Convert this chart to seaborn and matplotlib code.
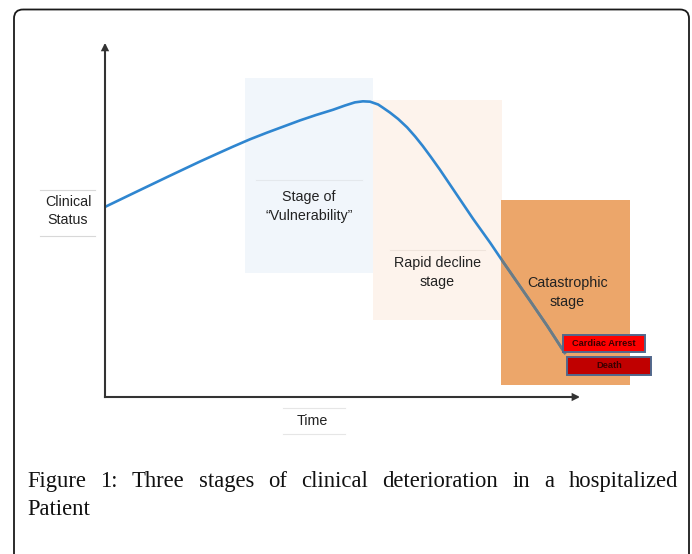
import matplotlib
matplotlib.use("Agg")
import matplotlib.pyplot as plt
import seaborn as sns
import pandas as pd
from matplotlib.patches import Rectangle, FancyBboxPatch, FancyArrowPatch

# ---------------- data ----------------
time_pts = [0.0, 6.3, 13.1, 20.0, 23.6, 26.9, 30.5, 34.1, 37.5, 41.1, 44.4, 48.0, 50.5,
            52.6, 54.3, 55.8, 57.5, 58.5, 60.0, 61.7, 63.6, 65.3, 66.9, 68.6, 70.5,
            74.1, 77.5, 81.1, 83.8, 89.5, 93.1, 96.8]
status_pts = [54.0, 58.1, 62.5, 66.9, 69.1, 71.1, 73.2, 75.1, 76.8, 78.6, 80.1, 81.6, 82.8,
              83.7, 84.0, 83.9, 83.1, 82.2, 80.8, 79.0, 76.6, 74.0, 71.3, 68.2, 64.6,
              57.4, 50.6, 43.8, 38.4, 27.3, 20.2, 12.5]

stage_labels = ["Stage of\n\u201cVulnerability\u201d", "Rapid decline\nstage", "Catastrophic\nstage"]
stage_start = [29.5, 56.4, 83.4]
stage_end = [56.4, 83.6, 110.5]
stage_bottom = [35.2, 21.9, 3.4]
stage_top = [90.6, 84.4, 56.0]
stage_colors = ["#f1f6fb", "#fdf3ec", "#eca66a"]

event_labels = ["Cardiac Arrest", "Death"]
event_start = [96.4, 97.3]
event_end = [113.7, 114.9]
event_bottom = [12.8, 6.25]
event_top = [17.6, 11.4]
event_colors = ["#fe0000", "#c00000"]

y_label = "Clinical\nStatus"
x_label = "Time"
caption_lines = ["Figure 1: Three stages of clinical deterioration in a hospitalized", "Patient"]

W, H = 692, 554
fig = plt.figure(figsize=(W / 100, H / 100), dpi=100)

# background axes in pixel coordinates (for frame & caption layout)
bg = fig.add_axes([0, 0, 1, 1])
bg.set_xlim(0, W)
bg.set_ylim(H, 0)
bg.axis("off")
bg.add_patch(FancyBboxPatch((14, 9.5), 675, 580, boxstyle="round,pad=0,rounding_size=9",
                            fill=False, ec="#1a1a1a", lw=1.3, clip_on=False))

# main chart axes
ax = fig.add_axes([105 / W, 1 - 397 / H, 475 / W, 352 / H])
ax.set_xlim(0, 100)
ax.set_ylim(0, 100)
ax.axis("off")

# stage boxes
for i in range(3):
    ax.add_patch(Rectangle((stage_start[i], stage_bottom[i]), stage_end[i] - stage_start[i],
                           stage_top[i] - stage_bottom[i], fc=stage_colors[i], ec="none",
                           zorder=1, clip_on=False))

# faint text-box lines for first two stages
ax.plot([31.8, 54.1], [61.6, 61.6], color="#e4e8ec", lw=0.8, zorder=1.5)
ax.plot([60.0, 80.0], [41.8, 41.8], color="#efe4dc", lw=0.8, zorder=1.5)

df = pd.DataFrame({"time": time_pts, "status": status_pts})
sns.lineplot(data=df, x="time", y="status", ax=ax, color="#2f86d0", lw=1.9,
             sort=False, zorder=3, legend=False)
line_blue = ax.lines[-1]
line_blue.set_solid_joinstyle("round")
line_blue.set_solid_capstyle("round")
sns.lineplot(data=df, x="time", y="status", ax=ax, color="#6d7b82", lw=1.9,
             sort=False, zorder=3.5, legend=False)
line_gray = ax.lines[-1]
line_gray.set_solid_joinstyle("round")
clip_rect = Rectangle((stage_start[2], stage_bottom[2]), stage_end[2] - stage_start[2],
                      stage_top[2] - stage_bottom[2], transform=ax.transData)
line_gray.set_clip_path(clip_rect)
ax.set_xlabel("")
ax.set_ylabel("")
ax.axis("off")

# stage texts
text_pos = [(43.0, 54.0), (70.0, 35.5), (97.3, 29.8)]
for lab, (tx, ty) in zip(stage_labels, text_pos):
    ax.text(tx, ty, lab, ha="center", va="center", fontsize=10.3, color="#222222",
            family="Liberation Sans", linespacing=1.45, zorder=5)

# event boxes
for i in range(2):
    ax.add_patch(Rectangle((event_start[i], event_bottom[i]), event_end[i] - event_start[i],
                           event_top[i] - event_bottom[i], fc=event_colors[i], ec="#52688c",
                           lw=1.4, zorder=6, clip_on=False))
    ax.text((event_start[i] + event_end[i]) / 2, (event_bottom[i] + event_top[i]) / 2,
            event_labels[i], ha="center", va="center", fontsize=6.7, fontweight="bold",
            color="#3a0000", family="Liberation Sans", zorder=7, clip_on=False)

# axes arrows
for end in [(0, 1.006), (1.0, 0)]:
    ax.add_patch(FancyArrowPatch((0, 0), end, transform=ax.transAxes, arrowstyle="-|>",
                                 mutation_scale=9, lw=1.5, color="#333333",
                                 shrinkA=0, shrinkB=0, clip_on=False, zorder=4,
                                 joinstyle="miter", capstyle="projecting"))

# axis labels with thin rules
bg.text(68, 211, y_label, ha="center", va="center", fontsize=10.3, color="#222222",
        family="Liberation Sans", linespacing=1.35)
bg.plot([40, 95], [190, 190], color="#d8d8d8", lw=0.8)
bg.plot([40, 95], [236, 236], color="#d8d8d8", lw=0.8)
bg.text(312, 421, x_label, ha="center", va="center", fontsize=10.3, color="#222222",
        family="Liberation Sans")
bg.plot([283, 345], [408, 408], color="#e6e6e6", lw=0.8)
bg.plot([283, 345], [434, 434], color="#e6e6e6", lw=0.8)

# justified caption
fig.canvas.draw()
renderer = fig.canvas.get_renderer()
left, right = 27, 678
cap_kw = dict(fontsize=16.3, family="Liberation Serif", color="#111111", va="baseline", ha="left")
baselines = [487, 515]
words = caption_lines[0].split(" ")
texts = [bg.text(0, baselines[0], w, **cap_kw) for w in words]
widths = [t.get_window_extent(renderer).width for t in texts]
gap = (right - left - sum(widths)) / (len(words) - 1)
x = left
for t, w in zip(texts, widths):
    t.set_x(x)
    x += w + gap
bg.text(left, baselines[1], caption_lines[1], **cap_kw)

fig.savefig("out.png", dpi=100, facecolor="white")
